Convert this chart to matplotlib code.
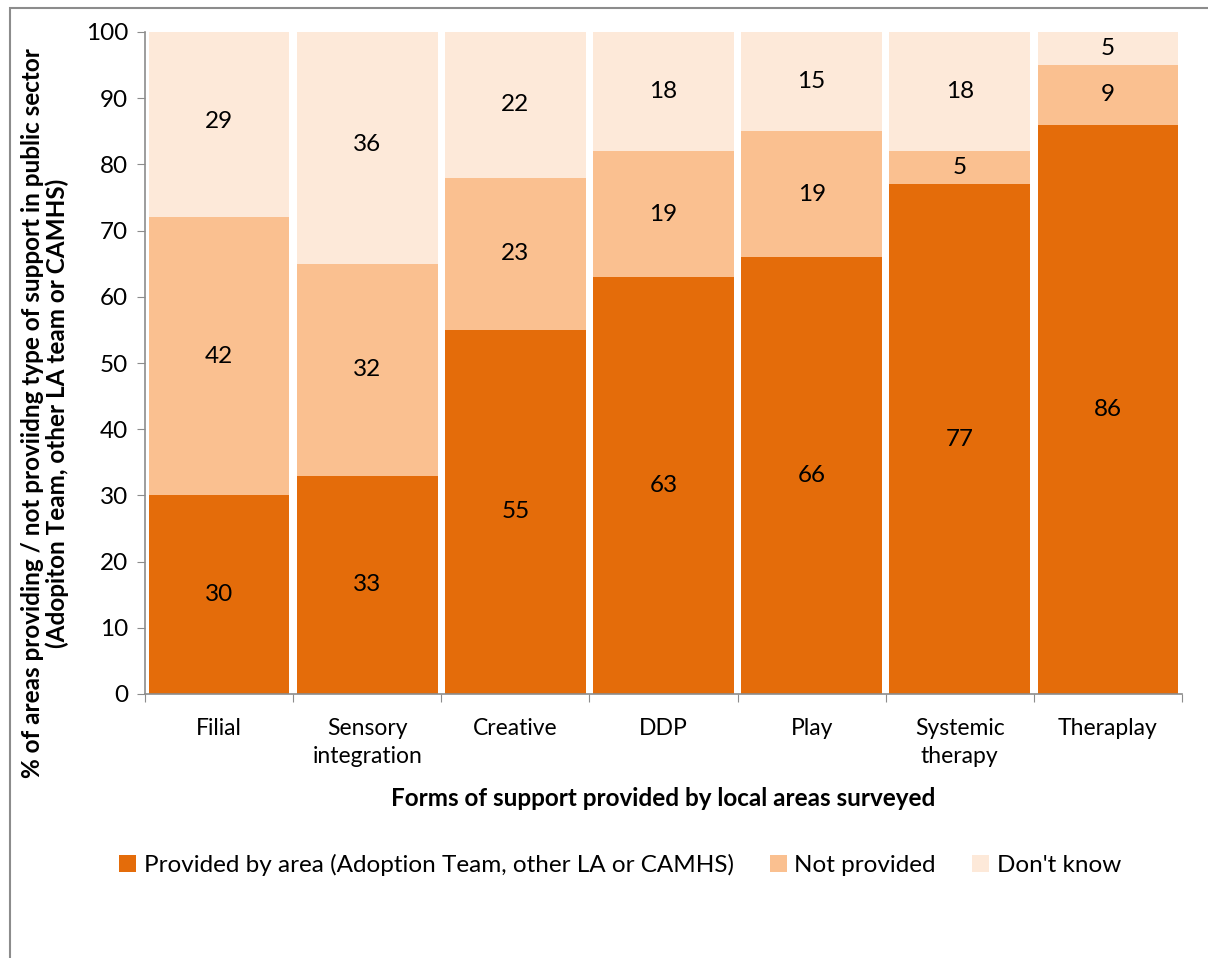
import matplotlib.pyplot as plt
from matplotlib.patches import Rectangle
import numpy as np

categories = ['Filial', 'Sensory\nintegration', 'Creative', 'DDP', 'Play', 'Systemic\ntherapy', 'Theraplay']
provided = [30, 33, 55, 63, 66, 77, 86]
not_provided = [42, 32, 23, 19, 19, 5, 9]
dont_know = [29, 36, 22, 18, 15, 18, 5]
series_names = ['Provided by area (Adoption Team, other LA or CAMHS)', 'Not provided', "Don't know"]
colors = ['#E46C0A', '#FAC090', '#FDE9D9']

plt.rcParams['font.family'] = ['Lato', 'DejaVu Sans']

fig = plt.figure(figsize=(12.08, 9.58), dpi=100)
ax = fig.add_axes([145 / 1208, 1 - 694 / 958, (1182 - 145) / 1208, (694 - 32) / 958])

# frame around the chart area
fig.patches.append(Rectangle((10 / 1208, -0.1), 1.2, 1 - 8 / 958 + 0.1, transform=fig.transFigure,
                             fill=False, edgecolor='#8c8c8c', linewidth=1.5))

x = np.arange(len(categories))
bottom = np.zeros(len(categories))
for vals, name, col in zip([provided, not_provided, dont_know], series_names, colors):
    ax.bar(x, vals, width=0.95, bottom=bottom, color=col, label=name)
    for xi, b, v in zip(x, bottom, vals):
        ax.text(xi, b + v / 2, str(v), ha='center', va='center', fontsize=17.5)
    bottom += np.array(vals)

ax.set_xlim(-0.495, len(categories) - 0.5)
ax.set_ylim(0, 100)
ax.set_yticks(range(0, 101, 10))
ax.set_xticks(np.arange(-0.5, len(categories), 1), minor=False)
ax.set_xticklabels([])
ax.set_xticks(x, minor=True)
ax.set_xticklabels(categories, minor=True, fontsize=16.5, linespacing=1.45)
ax.tick_params(axis='x', which='minor', length=0, pad=17)
ax.tick_params(axis='x', which='major', length=6, color='#8c8c8c')
ax.tick_params(axis='y', length=6, color='#8c8c8c', labelsize=17.5, pad=6)
for s in ['top', 'right']:
    ax.spines[s].set_visible(False)
for s in ['left', 'bottom']:
    ax.spines[s].set_color('#8c8c8c')
    ax.spines[s].set_linewidth(1.2)

ax.set_xlabel('Forms of support provided by local areas surveyed', fontsize=17.5, fontweight='bold', labelpad=14)
fig.text(45 / 1208, 1 - 413 / 958,
         '% of areas providing / not proviidng type of support in public sector\n(Adopiton Team, other LA team or CAMHS)',
         rotation=90, ha='center', va='center', fontsize=17.5, fontweight='bold', linespacing=1.1)

fig.legend(loc='center', bbox_to_anchor=(620 / 1208, 1 - 865 / 958), ncol=3, frameon=False,
           fontsize=17.5, handlelength=0.7, handleheight=0.7, handletextpad=0.3, columnspacing=1.5)

fig.savefig('out.png', dpi=100)
